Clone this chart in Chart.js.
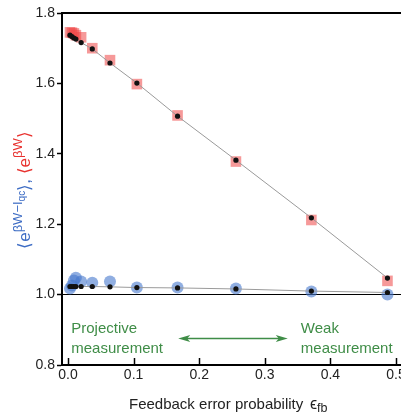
<!DOCTYPE html>
<html>
<head>
<meta charset="utf-8">
<script src="https://cdn.jsdelivr.net/npm/chart.js@4"></script>
<style>
  html, body { margin: 0; padding: 0; background: #fff; overflow: hidden; }
  #wrap { width: 430px; height: 417px; }
</style>
</head>
<body>
<div id="wrap"><canvas id="c" width="430" height="417"></canvas></div>
<script>
// feedback error probability values (x)
const errProb = [0.003, 0.006, 0.009, 0.012, 0.02, 0.037, 0.064, 0.105, 0.167, 0.256, 0.371, 0.487];
// red: <e^{bW}> measured (squares) and theory (black dots)
const redMeasured = [1.745, 1.744, 1.742, 1.737, 1.731, 1.700, 1.666, 1.598, 1.509, 1.378, 1.212, 1.039];
const redTheory = [1.737, 1.733, 1.729, 1.726, 1.716, 1.698, 1.658, 1.601, 1.507, 1.382, 1.218, 1.047];
// blue: <e^{bW - Iqc}> measured (circles) and theory (black dots)
const blueMeasured = [1.017, 1.026, 1.040, 1.048, 1.037, 1.034, 1.037, 1.020, 1.020, 1.017, 1.009, 1.000];
const blueTheory = [1.023, 1.023, 1.023, 1.023, 1.023, 1.023, 1.022, 1.020, 1.019, 1.016, 1.010, 1.006];
// tick labels
const xTicks = [0, 0.1, 0.2, 0.3, 0.4, 0.5];
const yTicks = [0.8, 1.0, 1.2, 1.4, 1.6, 1.8];

const pts = (ys) => errProb.map((x, i) => ({ x: x, y: ys[i] }));
const FONT = '"Liberation Sans", Arial, sans-serif';
const GREEN = '#3f8d47';

// draws a row of text pieces (normal / super / sub) starting at 0,0 of current transform
function richText(ctx, parts, align) {
  let total = 0;
  parts.forEach(p => { ctx.font = p.size + 'px ' + FONT; total += ctx.measureText(p.t).width; });
  let x = align === 'center' ? -total / 2 : 0;
  parts.forEach(p => {
    ctx.font = p.size + 'px ' + FONT;
    ctx.fillStyle = p.c;
    ctx.fillText(p.t, x, p.dy || 0);
    x += ctx.measureText(p.t).width;
  });
}

const extras = {
  id: 'extras',
  afterDraw(chart) {
    const ctx = chart.ctx, a = chart.chartArea;
    const xs = chart.scales.x, ys = chart.scales.y;
    ctx.save();
    // top frame line
    ctx.strokeStyle = '#000';
    ctx.lineWidth = 2;
    ctx.beginPath();
    ctx.moveTo(a.left - 1, a.top);
    ctx.lineTo(a.right, a.top);
    ctx.stroke();
    // inward x ticks
    ctx.lineWidth = 1.5;
    xTicks.forEach(v => {
      const px = Math.round(xs.getPixelForValue(v)) + 0.5;
      ctx.beginPath();
      ctx.moveTo(px, a.bottom);
      ctx.lineTo(px, a.bottom - 7);
      ctx.stroke();
    });

    // green annotations
    ctx.fillStyle = GREEN;
    ctx.font = '15px ' + FONT;
    ctx.textBaseline = 'middle';
    ctx.textAlign = 'left';
    const lx = xs.getPixelForValue(0.005);
    ctx.fillText('Projective', lx, ys.getPixelForValue(0.903));
    ctx.fillText('measurement', lx, ys.getPixelForValue(0.846));
    const rx = xs.getPixelForValue(0.355);
    ctx.fillText('Weak', rx, ys.getPixelForValue(0.903));
    ctx.fillText('measurement', rx, ys.getPixelForValue(0.846));

    // double arrow
    const ay = Math.round(ys.getPixelForValue(0.876)) + 0.5;
    const ax1 = xs.getPixelForValue(0.168), ax2 = xs.getPixelForValue(0.335);
    ctx.strokeStyle = GREEN;
    ctx.lineWidth = 1.5;
    ctx.beginPath();
    ctx.moveTo(ax1 + 6, ay);
    ctx.lineTo(ax2 - 6, ay);
    ctx.stroke();
    ctx.fillStyle = GREEN;
    [[ax1, 1], [ax2, -1]].forEach(([x, d]) => {
      ctx.beginPath();
      ctx.moveTo(x, ay);
      ctx.lineTo(x + d * 12, ay - 3.5);
      ctx.lineTo(x + d * 9, ay);
      ctx.lineTo(x + d * 12, ay + 3.5);
      ctx.closePath();
      ctx.fill();
    });

    // x axis title
    ctx.textBaseline = 'alphabetic';
    ctx.fillStyle = '#222';
    ctx.font = '15px ' + FONT;
    ctx.fillText('Feedback error probability', 129, 409);
    ctx.save();
    ctx.translate(310, 409);
    richText(ctx, [
      { t: '\u03F5', size: 16, c: '#222' },
      { t: 'fb', size: 12.5, c: '#222', dy: 3 }
    ], 'left');
    ctx.restore();

    // y axis title (rotated, blue + red)
    const BLUE = '#3d6cc4', RED = '#e8322f';
    ctx.save();
    ctx.translate(30, 190);
    ctx.rotate(-Math.PI / 2);
    richText(ctx, [
      { t: '\u27E8e', size: 17, c: BLUE },
      { t: '\u03B2W\u2212I', size: 13, c: BLUE, dy: -8 },
      { t: 'qc', size: 10, c: BLUE, dy: -5 },
      { t: '\u27E9, ', size: 17, c: BLUE },
      { t: '\u27E8e', size: 17, c: RED },
      { t: '\u03B2W', size: 13, c: RED, dy: -8 },
      { t: '\u27E9', size: 17, c: RED }
    ], 'center');
    ctx.restore();
    ctx.restore();
  }
};

new Chart(document.getElementById('c'), {
  type: 'scatter',
  data: {
    datasets: [
      {
        label: 'red theory',
        data: pts(redTheory),
        showLine: true,
        borderColor: '#9a9a9a',
        borderWidth: 1,
        backgroundColor: '#111',
        pointBorderWidth: 0,
        pointRadius: 2.6,
        order: 1
      },
      {
        label: 'blue theory',
        data: pts(blueTheory),
        showLine: true,
        borderColor: '#9a9a9a',
        borderWidth: 1,
        backgroundColor: '#111',
        pointBorderWidth: 0,
        pointRadius: 2.6,
        order: 2
      },
      {
        label: 'red measured',
        data: pts(redMeasured),
        pointStyle: 'rect',
        pointRadius: 7.5,
        pointBorderWidth: 0,
        backgroundColor: 'rgba(238, 70, 70, 0.55)',
        order: 3
      },
      {
        label: 'blue measured',
        data: pts(blueMeasured),
        pointRadius: 6,
        pointBorderWidth: 0,
        backgroundColor: 'rgba(70, 120, 205, 0.6)',
        order: 4
      }
    ]
  },
  options: {
    responsive: false,
    animation: false,
    layout: { padding: { top: 13, right: 10, left: 0, bottom: 0 } },
    plugins: { legend: { display: false }, tooltip: { enabled: false } },
    scales: {
      x: {
        type: 'linear',
        min: -0.00915,
        max: 0.5366,
        afterBuildTicks: (s) => { s.ticks = xTicks.map(v => ({ value: v })); },
        afterFit: (s) => { s.height = 52; },
        ticks: {
          color: '#222',
          font: { family: FONT, size: 14 },
          padding: 2,
          callback: (v) => v.toFixed(1)
        },
        grid: { display: true, drawOnChartArea: false, drawTicks: false, color: 'transparent' },
        border: { color: '#000', width: 2 }
      },
      y: {
        type: 'linear',
        min: 0.8,
        max: 1.8,
        afterBuildTicks: (s) => { s.ticks = yTicks.map(v => ({ value: v })); },
        afterFit: (s) => { s.width = 62; },
        ticks: {
          color: '#222',
          font: { family: FONT, size: 14 },
          padding: 2,
          callback: (v) => v.toFixed(1)
        },
        grid: {
          drawOnChartArea: true,
          tickLength: 5,
          tickWidth: 1.5,
          tickColor: '#000',
          lineWidth: 1,
          color: (c) => (c.tick && Math.abs(c.tick.value - 1) < 1e-6) ? '#000' : 'transparent'
        },
        border: { color: '#000', width: 2 }
      }
    }
  },
  plugins: [extras]
});
</script>
</body>
</html>
